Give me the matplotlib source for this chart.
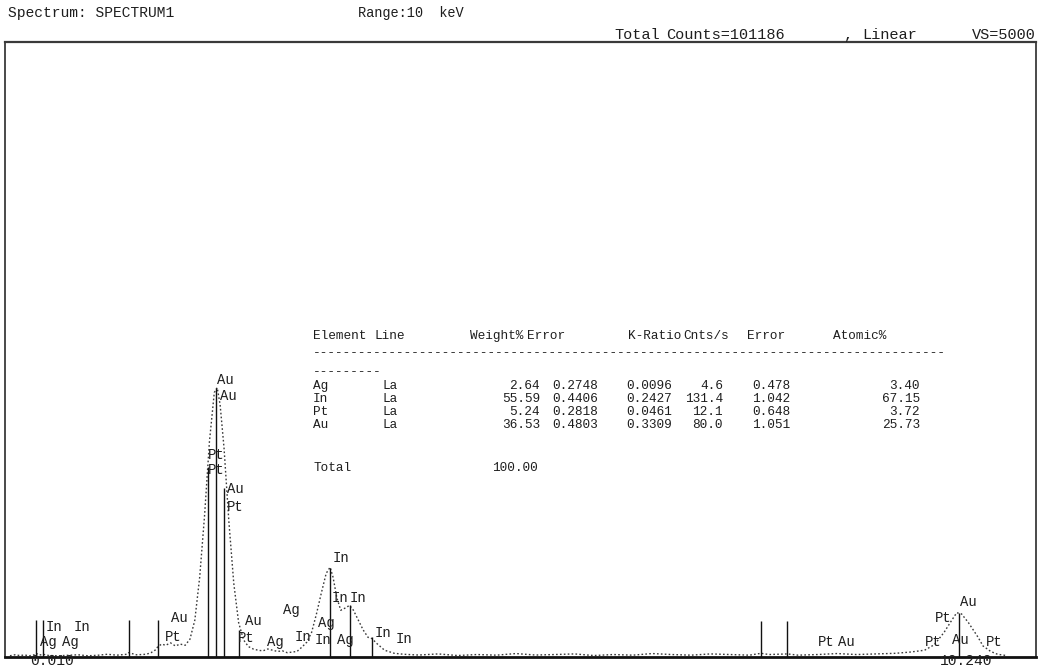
import matplotlib
matplotlib.use("Agg")
import matplotlib.pyplot as plt

W, H = 1040, 668
MONO = ["Liberation Mono", "DejaVu Sans Mono"]
INK = "#1e1e1e"

# ---- spectrum (energy in keV, counts) ----
spec_e = [0.00, 0.05, 0.10, 0.15, 0.20, 0.25, 0.27, 0.30, 0.34, 0.40, 0.50, 0.60,
          0.70, 0.80, 0.90, 1.00, 1.10, 1.20, 1.22, 1.30, 1.40, 1.45, 1.50, 1.52,
          1.56, 1.60, 1.65, 1.70, 1.75, 1.80, 1.85, 1.90, 1.95, 2.00, 2.05, 2.10,
          2.13, 2.16, 2.20, 2.25, 2.30, 2.35, 2.40, 2.45, 2.50, 2.55, 2.60, 2.65,
          2.70, 2.75, 2.80, 2.85, 2.90, 2.95, 3.00, 3.05, 3.10, 3.15, 3.20, 3.25,
          3.29, 3.32, 3.36, 3.40, 3.45, 3.49, 3.53, 3.58, 3.63, 3.68, 3.72, 3.77,
          3.85, 3.95, 4.05, 4.20, 4.40, 4.60, 4.80, 5.00, 5.20, 5.40, 5.60, 5.80,
          6.00, 6.20, 6.40, 6.60, 6.80, 7.00, 7.20, 7.40, 7.60, 7.72, 7.80, 7.99,
          8.10, 8.30, 8.50, 8.70, 8.90, 9.10, 9.25, 9.40, 9.50, 9.60, 9.68, 9.73,
          9.78, 9.85, 9.95, 10.00, 10.08, 10.15, 10.24]
spec_c = [10, 18, 12, 16, 10, 18, 30, 15, 22, 12, 10, 14,
          18, 10, 14, 22, 15, 22, 35, 18, 22, 35, 60, 85,
          105, 95, 115, 90, 105, 95, 145, 300, 650, 1150, 1750, 2150,
          2190, 2050, 1700, 1100, 600, 280, 140, 85, 65, 55, 50, 65,
          55, 45, 50, 35, 40, 45, 80, 120, 200, 350, 520, 680,
          730, 650, 480, 380, 400, 420, 380, 300, 220, 160, 150, 110,
          55, 30, 22, 16, 25, 12, 20, 15, 28, 16, 20, 25,
          12, 20, 15, 28, 20, 15, 25, 20, 15, 30, 20, 25,
          15, 20, 28, 20, 25, 30, 40, 55, 100, 200, 300, 360,
          350, 280, 160, 90, 45, 22, 12]

# ---- element marker lines ----
mark_e = [0.27, 0.34, 1.22, 1.52, 2.04, 2.12, 2.20, 2.35, 3.29, 3.49, 3.72, 7.72, 7.99, 9.75]
mark_c = [300, 300, 300, 300, 1545, 2190, 1375, 220, 725, 425, 165, 295, 295, 360]

# ---- marker labels ----
lab_txt = ["In", "In", "Ag", "Ag", "Au", "Pt", "Au", "Au", "Pt", "Pt", "Au", "Pt",
           "Au", "Pt", "Ag", "Ag", "In", "In", "Ag", "Ag", "In", "In", "In", "In", "In",
           "Pt", "Au", "Pt", "Pt", "Au", "Au", "Pt"]
lab_e = [0.37, 0.65, 0.31, 0.53, 1.66, 1.59, 2.13, 2.16, 2.03, 2.03, 2.23, 2.23,
         2.42, 2.34, 2.64, 2.81, 2.93, 3.13, 3.17, 3.36, 3.32, 3.31, 3.49, 3.75, 3.96,
         8.30, 8.51, 9.40, 9.51, 9.76, 9.68, 10.03]
lab_c = [244, 244, 122, 122, 317, 163, 2252, 2122, 1642, 1520, 1366, 1220,
         293, 154, 122, 382, 163, 138, 276, 138, 805, 480, 480, 195, 146,
         122, 122, 122, 317, 447, 138, 122]

# ---- quantitative results ----
elements = ["Ag", "In", "Pt", "Au"]
xray_line = ["La", "La", "La", "La"]
weight = [2.64, 55.59, 5.24, 36.53]
weight_err = [0.2748, 0.4406, 0.2818, 0.4803]
k_ratio = [0.0096, 0.2427, 0.0461, 0.3309]
cnts_s = [4.6, 131.4, 12.1, 80.0]
cnts_err = [0.478, 1.042, 0.648, 1.051]
atomic = [3.40, 67.15, 3.72, 25.73]
total_weight = 100.00

fig = plt.figure(figsize=(W / 100, H / 100), dpi=100)
fig.patch.set_facecolor("white")


def fx(x):
    return x / W


def fy(y):
    return 1 - y / H


def put(x, y, s, ha="left", size=9.2):
    fig.text(fx(x), fy(y), s, ha=ha, va="center", family=MONO, fontsize=size, color=INK)


ax = fig.add_axes([fx(5), fy(657), (1036 - 5) / W, (657 - 42) / H])
ax.set_xlim(-0.051, 10.545)
ax.set_ylim(0, 5000)
ax.set_xticks([])
ax.set_yticks([])
for side in ["left", "right"]:
    ax.spines[side].set_linewidth(1.2)
    ax.spines[side].set_color("#2a2a2a")
ax.spines["top"].set_linewidth(1.6)
ax.spines["top"].set_color("#3a3a3a")
ax.spines["bottom"].set_linewidth(2.0)
ax.spines["bottom"].set_color("#111111")

ax.plot(spec_e, spec_c, linestyle=(0, (1.2, 1.6)), color="#3a3a3a", lw=1.0)
ax.vlines(mark_e, 0, mark_c, colors="#111111", lw=1.0)
for t, e, c in zip(lab_txt, lab_e, lab_c):
    ax.text(e, c, t, ha="left", va="center", family=MONO, fontsize=10, color=INK)

# ---- header ----
put(8, 13, "Spectrum: SPECTRUM1", size=10.5)
put(358, 13, "Range:10  keV", size=9.8)
put(614, 35, "Total", size=11)
put(666, 35, "Counts=101186", size=11)
put(843, 35, ",", size=11)
put(862, 35, "Linear", size=11)
put(1036, 35, "VS=5000", ha="right", size=11)

# ---- energy range labels ----
put(52, 661, "0.010", ha="center", size=10.5)
put(966, 661, "10.240", ha="center", size=10.5)

# ---- results table ----
put(313, 336, "Element")
put(374, 336, "Line")
put(470, 336, "Weight%")
put(527, 336, "Error")
put(628, 336, "K-Ratio")
put(683, 336, "Cnts/s")
put(747, 336, "Error")
put(833, 336, "Atomic%")
put(313, 353, "-" * 83)
put(313, 372, "-" * 9)
for i, el in enumerate(elements):
    y = 386 + i * 13
    put(313, y, el)
    put(383, y, xray_line[i])
    put(540, y, f"{weight[i]:.2f}", ha="right")
    put(598, y, f"{weight_err[i]:.4f}", ha="right")
    put(672, y, f"{k_ratio[i]:.4f}", ha="right")
    put(723, y, f"{cnts_s[i]:.1f}", ha="right")
    put(790, y, f"{cnts_err[i]:.3f}", ha="right")
    put(920, y, f"{atomic[i]:.2f}", ha="right")
put(313, 468, "Total")
put(538, 468, f"{total_weight:.2f}", ha="right")

fig.savefig("out.png", dpi=100, facecolor="white")
